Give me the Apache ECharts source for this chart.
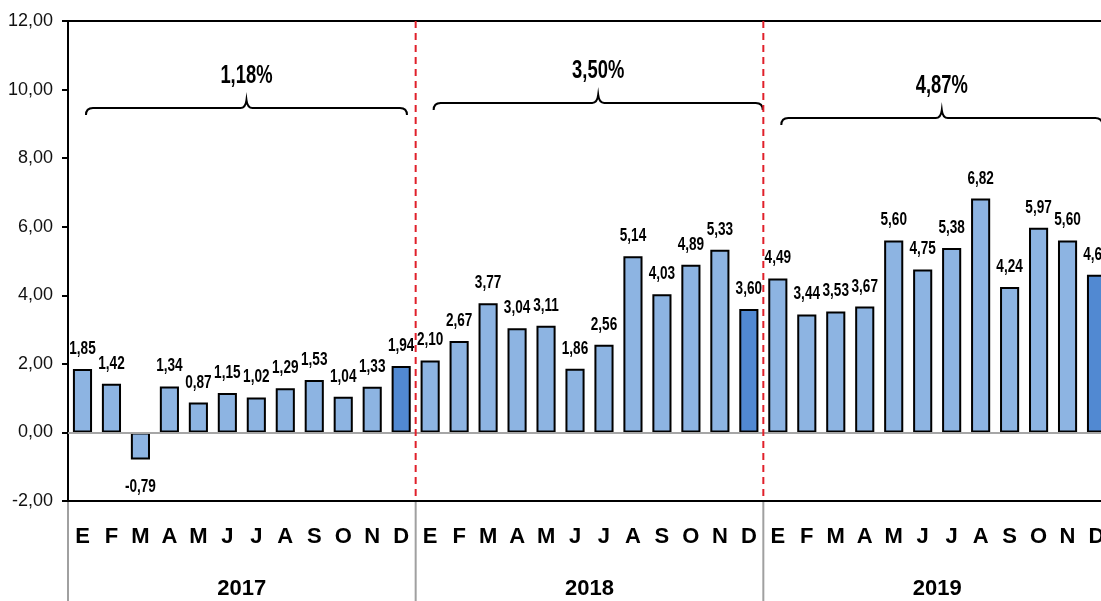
<!DOCTYPE html>
<html>
<head>
<meta charset="utf-8">
<script src="https://cdn.jsdelivr.net/npm/echarts@6/dist/echarts.min.js"></script>
<style>
  html, body { margin: 0; padding: 0; background: #fff; }
  #chart { width: 1101px; height: 601px; }
</style>
</head>
<body>
<div id="chart"></div>
<script>
// Monthly variation, three years
const years = ['2017', '2018', '2019'];
const months = ['E', 'F', 'M', 'A', 'M', 'J', 'J', 'A', 'S', 'O', 'N', 'D'];
const values2017 = [1.85, 1.42, -0.79, 1.34, 0.87, 1.15, 1.02, 1.29, 1.53, 1.04, 1.33, 1.94];
const values2018 = [2.10, 2.67, 3.77, 3.04, 3.11, 1.86, 2.56, 5.14, 4.03, 4.89, 5.33, 3.60];
const values2019 = [4.49, 3.44, 3.53, 3.67, 5.60, 4.75, 5.38, 6.82, 4.24, 5.97, 5.60, 4.60];
const yearTotals = ['1,18%', '3,50%', '4,87%'];
// brace heights in value units
const braceLevel = [9.46, 9.61, 9.17];
const yTicks = [-2, 0, 2, 4, 6, 8, 10, 12];

const fmt = v => v.toFixed(2).replace('.', ',');
const sans = "'Liberation Sans', Arial, sans-serif";

const categories = [];
years.forEach(y => months.forEach((m, i) => categories.push(y + '-' + i + '-' + m)));
const allValues = values2017.concat(values2018, values2019);

const LIGHT = '#8DB4E2';
const DARK = '#5189D2';

const barData = allValues.map((v, i) => ({
  value: v,
  itemStyle: { color: (i % 12 === 11) ? DARK : LIGHT }
}));
const labelData = allValues.map((v, i) => [i, v]);

// one item per year: first category, last category, brace level
const braceData = years.map((y, k) => [k * 12, k * 12 + 11, braceLevel[k]]);

// condensed bold text (horizontal squeeze of the regular bold face)
function narrowText(x, y, text, size, sy) {
  return {
    type: 'text', x, y, scaleX: 0.8, scaleY: sy || 1.05,
    style: {
      text, x: 0, y: 0, font: 'bold ' + size + 'px ' + sans,
      fill: '#000', align: 'center', verticalAlign: 'middle'
    }
  };
}

function renderValueLabel(params, api) {
  const v = api.value(1);
  const p = api.coord([api.value(0), v]);
  const y = v >= 0 ? p[1] - 20 : p[1] + 28;
  return narrowText(p[0], y, fmt(v), 17);
}

function renderBrace(params, api) {
  const k = params.dataIndex;
  const i0 = api.value(0), i1 = api.value(1), lvl = api.value(2);
  const band = api.size([1, 0])[0];
  const xs = api.coord([i0, lvl])[0] + band * 0.12;
  const xe = api.coord([i1, lvl])[0] + (k === 1 ? band * 0.48 : band * 0.2);
  const y = api.coord([i0, lvl])[1];
  const xc = (xs + xe) / 2;
  const r = 7, tip = 8;
  const path = [
    'M', xs, y + r,
    'Q', xs, y, xs + r, y,
    'L', xc - 6, y,
    'Q', xc - 1, y, xc, y - tip,
    'Q', xc + 1, y, xc + 6, y,
    'L', xe - r, y,
    'Q', xe, y, xe, y + r
  ].join(' ');
  const yTop = api.coord([i1, yTicks[yTicks.length - 1]])[1];
  const yBot = api.coord([i1, yTicks[0]])[1];
  const xl = api.coord([i0, 0])[0] - band / 2;
  const children = [{
    type: 'path',
    shape: { pathData: path },
    style: { fill: null, stroke: '#000', lineWidth: 2 }
  }, narrowText(xc, y - 32, yearTotals[k], 23, 1.15), {
    // year group separator below the axis
    type: 'line',
    shape: { x1: xl, y1: yBot + 1, x2: xl, y2: yBot + 110 },
    style: { stroke: '#A0A0A0', lineWidth: 2 }
  }];
  // dashed separator after the last month of each year except the final one
  if (k < years.length - 1) {
    const xb = api.coord([i1, 0])[0] + band / 2;
    children.push({
      type: 'line',
      shape: { x1: xb, y1: yTop, x2: xb, y2: yBot },
      style: { stroke: '#E0202A', lineWidth: 2, lineDash: [7, 5] }
    });
  }
  return { type: 'group', children };
}

const chart = echarts.init(document.getElementById('chart'), null, { renderer: 'canvas' });
chart.setOption({
  backgroundColor: '#fff',
  animation: false,
  grid: {
    left: 68, top: 21, width: 1043, bottom: 100,
    outerBoundsMode: 'none', containLabel: false,
    show: true, borderColor: '#000', borderWidth: 2, backgroundColor: '#fff'
  },
  xAxis: [{
    type: 'category',
    data: categories,
    position: 'bottom',
    axisLine: { onZero: false, show: true, lineStyle: { color: '#000', width: 2 } },
    axisTick: { show: false },
    axisLabel: {
      interval: 0, margin: 25, hideOverlap: false,
      formatter: v => v.split('-')[2],
      color: '#000', fontSize: 22, fontWeight: 'bold', fontFamily: sans
    },
    splitLine: { show: false }
  }, {
    type: 'category',
    data: years,
    position: 'bottom',
    axisLine: { show: false },
    axisTick: { show: false },
    axisLabel: {
      margin: 77, color: '#000', fontSize: 22, fontWeight: 'bold', fontFamily: sans
    },
    splitLine: { show: false }
  }],
  yAxis: {
    type: 'value',
    min: yTicks[0], max: yTicks[yTicks.length - 1], interval: 2,
    axisLine: { show: true, lineStyle: { color: '#000', width: 2 } },
    axisTick: { show: true, length: 6, lineStyle: { color: '#000', width: 2 } },
    axisLabel: {
      formatter: v => fmt(v), margin: 15,
      color: '#111', fontSize: 18, fontFamily: sans
    },
    splitLine: { show: false }
  },
  series: [{
    type: 'bar',
    xAxisIndex: 0,
    data: barData,
    barWidth: '66%',
    itemStyle: { borderColor: '#000', borderWidth: 2 },
    markLine: {
      silent: true, symbol: ['none', 'none'],
      label: { show: false },
      lineStyle: { color: '#A6A6A6', width: 2, type: 'solid' },
      data: [{ yAxis: 0 }]
    },
    z: 3
  }, {
    type: 'custom',
    xAxisIndex: 0,
    data: labelData,
    renderItem: renderValueLabel,
    silent: true,
    clip: false,
    z: 6
  }, {
    type: 'custom',
    xAxisIndex: 0,
    data: braceData,
    renderItem: renderBrace,
    silent: true,
    clip: false,
    z: 5
  }]
});
</script>
</body>
</html>
